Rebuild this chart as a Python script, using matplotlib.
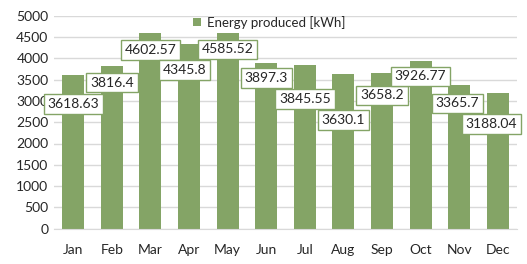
import matplotlib
matplotlib.use("Agg")
from matplotlib import pyplot as plt

months = ["Jan", "Feb", "Mar", "Apr", "May", "Jun",
          "Jul", "Aug", "Sep", "Oct", "Nov", "Dec"]
energy = [3618.63, 3816.4, 4602.57, 4345.8, 4585.52, 3897.3,
          3845.55, 3630.1, 3658.2, 3926.77, 3365.7, 3188.04]
# where each (manually dragged) data label sits, in axis units
label_y = [2930, 3430, 4195, 3725, 4207, 3538,
           3045, 2552, 3127, 3573, 2939, 2458]
label_dx = [0, 0, 0, -0.12, 0, 0, 0, 0, 0, 0, -0.04, -0.17]

bar_color = "#84A466"
grid_color = "#D9D9D9"
text_color = "#262626"

plt.rcParams["font.family"] = ["Lato", "DejaVu Sans"]

fig = plt.figure(figsize=(5.27, 2.64), dpi=100)
ax = fig.add_axes([54 / 527, 1 - 228.7 / 264, 463 / 527, 213 / 264])

x = range(len(months))
ax.bar(x, energy, width=0.57, color=bar_color, zorder=2,
       label="Energy produced [kWh]")

for i, (v, ly) in enumerate(zip(energy, label_y)):
    ax.text(i + label_dx[i], ly, f"{v:g}", ha="center", va="center",
            fontsize=10, color=text_color, zorder=4,
            bbox=dict(boxstyle="square,pad=0.28", facecolor="white",
                      edgecolor=bar_color, linewidth=1.0))

ax.set_xlim(-0.5, 11.5)
ax.set_ylim(0, 5000)
ax.set_yticks(range(0, 5001, 500))
ax.set_xticks(list(x))
ax.set_xticklabels(months)
ax.yaxis.grid(True, color=grid_color, linewidth=1.0, zorder=0)
ax.set_axisbelow(True)
for side in ["top", "right", "left"]:
    ax.spines[side].set_visible(False)
ax.spines["bottom"].set_color(grid_color)
ax.tick_params(axis="both", length=0, labelsize=10, colors=text_color)
ax.tick_params(axis="x", pad=11)
ax.tick_params(axis="y", pad=4)

ax.legend(loc="center", bbox_to_anchor=(0.465, 0.97), frameon=False,
          fontsize=9.5, handlelength=0.6, handleheight=0.6, handletextpad=0.4,
          labelcolor=text_color, borderpad=0, borderaxespad=0)

fig.savefig("out.png", dpi=100)
